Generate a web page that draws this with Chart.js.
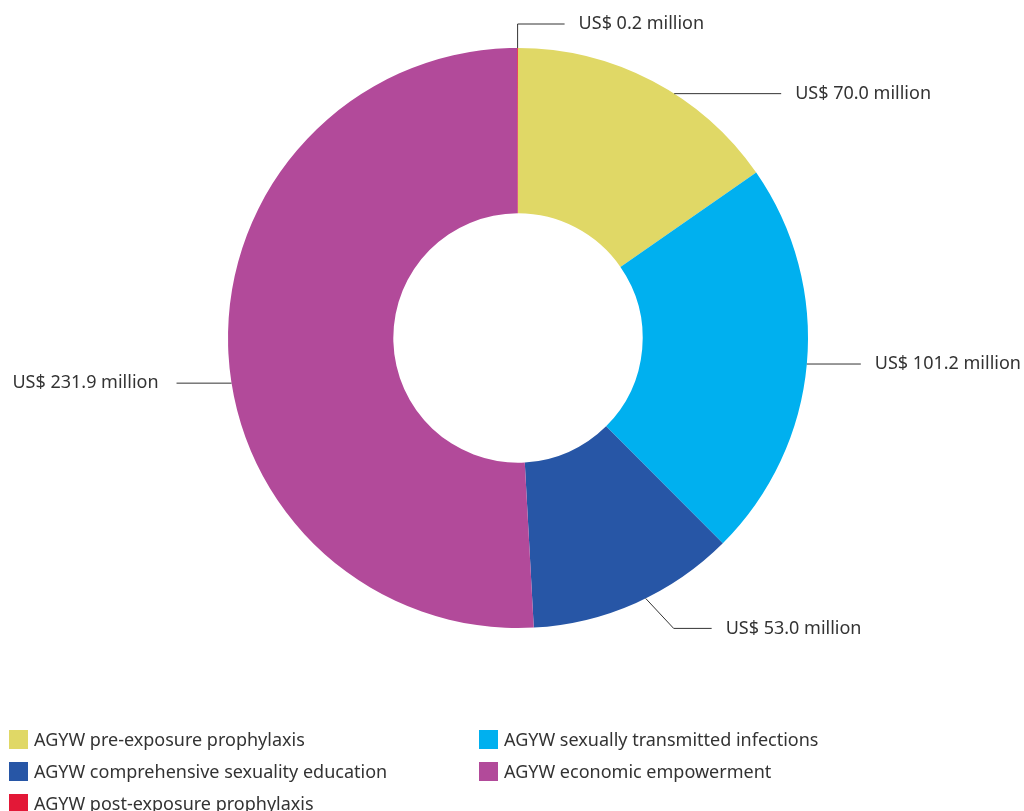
<!DOCTYPE html>
<html>
<head>
<meta charset="utf-8">
<script src="https://cdn.jsdelivr.net/npm/chart.js@4.4.1/dist/chart.umd.min.js"></script>
<style>
  html, body { margin: 0; padding: 0; background: #fff; }
  #wrap { position: relative; width: 1024px; height: 811px; }
  #legend { position: absolute; left: 9px; top: 727px; width: 1000px;
    font-family: "Noto Sans", sans-serif; font-size: 18px; color: #333; }
  .item { position: absolute; display: flex; align-items: center; white-space: nowrap; }
  .box { width: 19px; height: 19px; margin-right: 6px; }
</style>
</head>
<body>
<div id="wrap">
  <canvas id="myChart" width="1024" height="811"></canvas>
  <div id="legend"></div>
</div>
<script>
const categories = [
  'AGYW pre-exposure prophylaxis',
  'AGYW sexually transmitted infections',
  'AGYW comprehensive sexuality education',
  'AGYW economic empowerment',
  'AGYW post-exposure prophylaxis'
];
const amounts = [70.0, 101.2, 53.0, 231.9, 0.2]; // US$ million
const valueLabels = ['US$ 70.0 million', 'US$ 101.2 million', 'US$ 53.0 million', 'US$ 231.9 million', 'US$ 0.2 million'];
const colors = ['#E0D866', '#00B0EF', '#2756A6', '#B24A9A', '#E31837'];

// leader line shape for each slice (where on the slice, how it bends)
const leaders = [
  { frac: 0.59, up: 0, run: 107 },
  { frac: 0.50, up: 0, run: 54 },
  { frac: 0.45, diag: [28, 30], run: 38 },
  { frac: 0.46, up: 0, run: -55 },
  { frac: 0.5, up: -24, run: 47 }
];

const leaderPlugin = {
  id: 'leaders',
  afterDraw(chart) {
    const c = chart.ctx;
    const arcs = chart.getDatasetMeta(0).data;
    c.save();
    c.strokeStyle = '#333';
    c.lineWidth = 1;
    c.fillStyle = '#333';
    c.font = '18px "Noto Sans", sans-serif';
    c.textBaseline = 'middle';
    arcs.forEach((arc, i) => {
      const p = arc.getProps(['x', 'y', 'startAngle', 'endAngle', 'outerRadius'], true);
      const L = leaders[i];
      const a = p.startAngle + (p.endAngle - p.startAngle) * L.frac;
      let x = p.x + Math.cos(a) * p.outerRadius;
      let y = p.y + Math.sin(a) * p.outerRadius;
      c.beginPath();
      c.moveTo(x, y);
      if (L.up) { y += L.up; c.lineTo(x, y); }
      if (L.diag) { x += L.diag[0]; y += L.diag[1]; c.lineTo(x, y); }
      x += L.run;
      c.lineTo(x, y);
      c.stroke();
      if (L.run < 0) {
        c.textAlign = 'right';
        c.fillText(valueLabels[i], x - 18, y);
      } else {
        c.textAlign = 'left';
        c.fillText(valueLabels[i], x + 14, y);
      }
    });
    c.restore();
  }
};

const ctx = document.getElementById('myChart').getContext('2d');
new Chart(ctx, {
  type: 'doughnut',
  data: {
    labels: categories,
    datasets: [{
      data: amounts,
      backgroundColor: colors,
      borderWidth: 0
    }]
  },
  options: {
    responsive: false,
    animation: false,
    cutout: '43%',
    layout: { padding: { left: 228, right: 216, top: 48, bottom: 183 } },
    plugins: {
      legend: { display: false },
      tooltip: { enabled: false }
    }
  },
  plugins: [leaderPlugin]
});

// legend in two columns, row by row
const legendEl = document.getElementById('legend');
categories.forEach((name, i) => {
  const item = document.createElement('div');
  item.className = 'item';
  item.style.left = (i % 2 === 0 ? 0 : 470) + 'px';
  item.style.top = (Math.floor(i / 2) * 32) + 'px';
  item.innerHTML = '<span class="box" style="background:' + colors[i] + '"></span>' + name;
  legendEl.appendChild(item);
});
</script>
</body>
</html>
